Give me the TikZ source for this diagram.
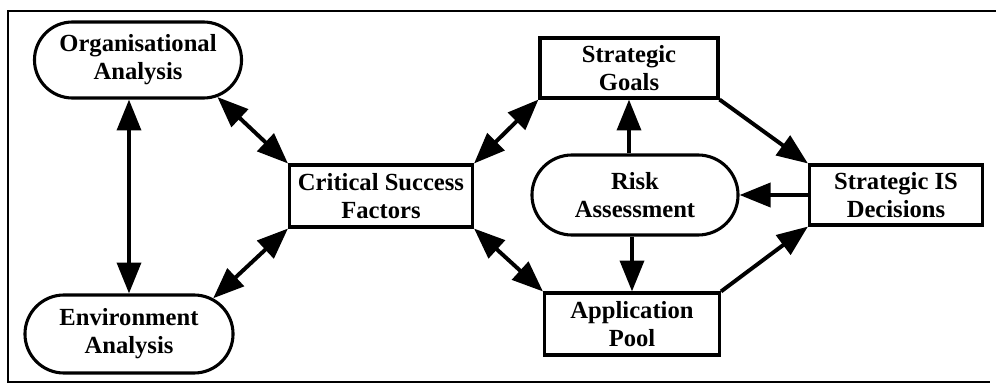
\documentclass[tikz,border=0pt]{standalone}
\usepackage{fontspec}
\setmainfont{Liberation Serif}
\usepackage{tikz}
\usetikzlibrary{shapes.misc, arrows.meta, positioning}
\tikzstyle{box} = [rectangle, draw, line width=2.2pt, align=center, inner sep=0pt, font=\bfseries\fontsize{17.5}{20}\selectfont]
\tikzstyle{rbox} = [rounded rectangle, draw, line width=2.2pt, align=center, inner sep=0pt, font=\bfseries\fontsize{17.5}{20}\selectfont]
\tikzstyle{line} = [draw, line width=2.8pt]
\tikzstyle{one} = [line, -{Triangle[length=22pt, width=17pt]}]
\tikzstyle{both} = [line, {Triangle[length=22pt, width=17pt]}-{Triangle[length=22pt, width=17pt]}]

\begin{document}
\begin{tikzpicture}[x=0.025cm, y=-0.025cm]
			\useasboundingbox (0,0) rectangle (996,388);
			\draw [line width=2pt] (996,11) -- (8,11) -- (8,382) -- (990,382);

			\node [rbox, minimum width=5.175cm, minimum height=1.9cm] (org) at (138,60) {Organisational\\Analysis};
			\node [rbox, minimum width=5.2cm, minimum height=1.95cm] (env) at (129,334) {Environment\\Analysis};
			\node [box, minimum width=4.575cm, minimum height=1.55cm] (csf) at (381,196) {Critical Success\\Factors};
			\node [box, minimum width=4.45cm, minimum height=1.5cm] (goals) at (629,68) {Strategic\\Goals};
			\node [rbox, minimum width=5.15cm, minimum height=2cm] (risk) at (635,195) {Risk\\Assessment};
			\node [box, minimum width=4.325cm, minimum height=1.5cm] (isd) at (896,195) {Strategic IS\\Decisions};
			\node [box, minimum width=4.375cm, minimum height=1.55cm] (pool) at (632,324) {Application\\Pool};

			\path [both] (org.south -| env.north) -- (env.north);
			\path [both] (org.-25) -- (csf.north west);
			\path [both] (env.23) -- (csf.south west);
			\path [both] (csf.north east) -- (goals.south west);
			\path [both] (csf.south east) -- (pool.north west);
			\path [one] (risk.north -| goals.south) -- (goals.south);
			\path [one] (risk.south -| pool.north) -- (pool.north);
			\path [one] (goals.south east) -- (isd.north west);
			\path [one] (pool.north east) -- (isd.south west);
			\path [one] (isd.west) -- (risk.east);
		\end{tikzpicture}
\end{document}
